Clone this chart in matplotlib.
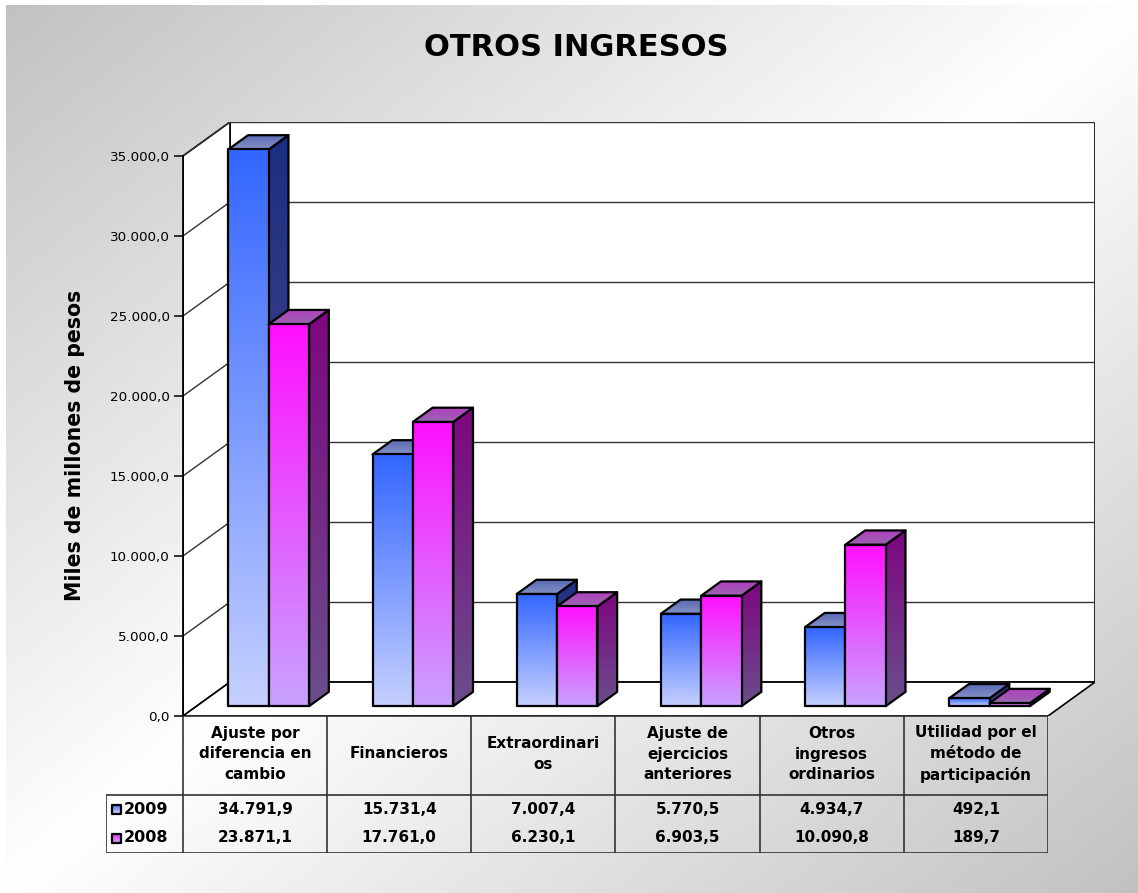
import numpy as np
import matplotlib

matplotlib.use("Agg")
import matplotlib.pyplot as plt
from matplotlib.patches import Polygon, Rectangle
from matplotlib.ticker import FuncFormatter

# chart data
categories = [
    "Ajuste por\ndiferencia en\ncambio",
    "Financieros",
    "Extraordinari\nos",
    "Ajuste de\nejercicios\nanteriores",
    "Otros\ningresos\nordinarios",
    "Utilidad por el\nmétodo de\nparticipación",
]
series_names = ["2009", "2008"]
values_2009 = [34791.9, 15731.4, 7007.4, 5770.5, 4934.7, 492.1]
values_2008 = [23871.1, 17761.0, 6230.1, 6903.5, 10090.8, 189.7]
y_ticks = [0, 5000, 10000, 15000, 20000, 25000, 30000, 35000]

# colours: (front top, front bottom, side top, side bottom, top back, top front)
STYLE = {
    "2009": ("#3366ff", "#c6d0ff", "#1c2f82", "#5b4e8e", "#5666b4", "#8592c4"),
    "2008": ("#ff10ff", "#c9a2ff", "#7e0680", "#6a4e8c", "#b23cc0", "#9a68b0"),
}

W, H = 1138, 893
YMAX = 35000
DX, DY = 47 / 144.17, 34 / (561 / 35000)   # depth of the 3d box in data units
F0, F1 = 0.29, 0.71                        # bar depth span (fraction of box depth)
BAR_W = 0.28


def fmt(v):
    return f"{v:,.1f}".replace(",", "X").replace(".", ",").replace("X", ".")


def rgb(c):
    return np.array(matplotlib.colors.to_rgb(c))


def grad_poly(ax, verts, c_top, c_bot, z):
    poly = Polygon(verts, closed=True, facecolor="none", edgecolor="none")
    ax.add_patch(poly)
    xs = [p[0] for p in verts]
    ys = [p[1] for p in verts]
    g = np.linspace(0, 1, 128)[:, None, None]
    img = (1 - g) * rgb(c_top) + g * rgb(c_bot)
    im = ax.imshow(img, extent=(min(xs), max(xs), min(ys), max(ys)), origin="upper",
                   aspect="auto", interpolation="bilinear", zorder=z)
    im.set_clip_path(poly)
    ax.add_patch(Polygon(verts, closed=True, facecolor="none", edgecolor="black",
                         lw=1.6, joinstyle="round", zorder=z + 0.1))


fig = plt.figure(figsize=(W / 100, H / 100), dpi=100)

# background: reflected diagonal gradient
bg = fig.add_axes([0, 0, 1, 1], zorder=-10)
yy, xx = np.mgrid[0:H, 0:W]
u = (xx / W + yy / H) / 2
val = (255 - 62 * np.abs(2 * u - 1)) / 255
img = np.dstack([val, val, val])
img[:5, :, :] = 1.0
img[:, :6, :] = 1.0
bg.imshow(img, aspect="auto", interpolation="bilinear")
bg.set_axis_off()

ax = fig.add_axes([183 / W, (H - 716) / H, (1095 - 183) / W, (716 - 122) / H])
ax.set_facecolor("none")
ncat = len(categories)

# walls and floor
ax.add_patch(Rectangle((DX, DY), ncat, YMAX, facecolor="white", edgecolor="black", lw=1.2, zorder=1))
ax.add_patch(Polygon([(0, 0), (0, YMAX), (DX, YMAX + DY), (DX, DY)], closed=True,
                     facecolor="white", edgecolor="black", lw=1.2, zorder=1))
ax.add_patch(Polygon([(0, 0), (ncat, 0), (ncat + DX, DY), (DX, DY)], closed=True,
                     facecolor="white", edgecolor="black", lw=1.2, zorder=1))
for v in y_ticks[1:]:
    ax.plot([DX, ncat + DX], [v + DY, v + DY], color="#333333", lw=1.0, zorder=1.5)
    ax.plot([0, DX], [v, v + DY], color="#333333", lw=1.0, zorder=1.5)

# 3d bars
z = 2
for i in range(ncat):
    for j, (name, vals) in enumerate(zip(series_names, [values_2009, values_2008])):
        v = vals[i]
        ft, fb, st, sb, tb, tf = STYLE[name]
        x0 = i + 0.22 + j * BAR_W
        x1 = x0 + BAR_W
        a0x, a0y = F0 * DX, F0 * DY
        a1x, a1y = F1 * DX, F1 * DY
        grad_poly(ax, [(x1 + a0x, a0y), (x1 + a1x, a1y), (x1 + a1x, v + a1y), (x1 + a0x, v + a0y)],
                  st, sb, z)
        grad_poly(ax, [(x0 + a0x, v + a0y), (x1 + a0x, v + a0y), (x1 + a1x, v + a1y), (x0 + a1x, v + a1y)],
                  tb, tf, z + 0.2)
        grad_poly(ax, [(x0 + a0x, a0y), (x1 + a0x, a0y), (x1 + a0x, v + a0y), (x0 + a0x, v + a0y)],
                  ft, fb, z + 0.4)
        z += 1

ax.set_xlim(0, ncat + DX)
ax.set_ylim(0, YMAX + DY)
for s in ["top", "right", "bottom"]:
    ax.spines[s].set_visible(False)
ax.spines["left"].set_bounds(0, YMAX)
ax.spines["left"].set_linewidth(1.3)
ax.set_xticks([])
ax.set_yticks(y_ticks)
ax.yaxis.set_major_formatter(FuncFormatter(lambda v, p: fmt(v)))
ax.tick_params(axis="y", direction="out", length=6.5, width=1.1, pad=3, labelsize=9.7)
ax.set_ylabel("Miles de millones de pesos", fontsize=14.8, fontweight="bold")
ax.yaxis.set_label_coords(-98 / 912, (716 - 445) / 594)

fig.text(576 / W, 1 - 48 / H, "OTROS INGRESOS", ha="center", va="center",
         fontsize=22, fontweight="bold")

# data table
left_col = -(183 - 106) / 144.17
tax = fig.add_axes([106 / W, (H - 853) / H, (1048 - 106) / W, (853 - 716) / H])
tax.set_xlim(left_col, ncat)
tax.set_ylim(137, 0)
tax.set_axis_off()
lc = dict(color="#333333", lw=1.2, solid_capstyle="butt")
tax.plot([0, ncat], [0, 0], **lc)
tax.plot([left_col, ncat], [79, 79], **lc)
tax.plot([left_col, ncat], [136.5, 136.5], **lc)
tax.plot([left_col, left_col], [79, 137], **lc)
for k in range(ncat + 1):
    tax.plot([k, k], [0, 137], **lc)
for i, lab in enumerate(categories):
    tax.text(i + 0.5, 38, lab, ha="center", va="center", fontsize=11,
             fontweight="bold", linespacing=1.45)
    tax.text(i + 0.5, 93, fmt(values_2009[i]), ha="center", va="center",
             fontsize=11, fontweight="bold")
    tax.text(i + 0.5, 122, fmt(values_2008[i]), ha="center", va="center",
             fontsize=11, fontweight="bold")
for j, (name, ycen) in enumerate(zip(series_names, [93, 122])):
    ft, fb = STYLE[name][0], STYLE[name][1]
    sq_x = (112 - 183) / 144.17
    sq_w = 9 / 144.17
    grad_poly(tax, [(sq_x, ycen + 4.5), (sq_x + sq_w, ycen + 4.5), (sq_x + sq_w, ycen - 4.5),
                    (sq_x, ycen - 4.5)], fb, ft, 5)
    tax.text((124 - 183) / 144.17, ycen, name, ha="left", va="center", fontsize=11.5,
             fontweight="bold")
tax.set_xlim(left_col, ncat)
tax.set_ylim(137, 0)

fig.savefig("out.png", dpi=100)
